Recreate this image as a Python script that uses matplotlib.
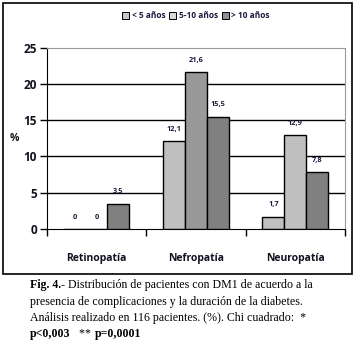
import matplotlib
matplotlib.use("Agg")
import matplotlib.pyplot as plt
from matplotlib.patches import Rectangle
import numpy as np

categories = ["Retinopatía", "Nefropatía", "Neuropatía"]
series_names = ["< 5 años", "5-10 años", "> 10 años"]
menos5 = [0, 12.1, 1.7]
de5a10 = [0, 21.6, 12.9]
mas10 = [3.5, 15.5, 7.8]
value_labels = [["0", "12,1", "1,7"], ["0", "21,6", "12,9"], ["3,5", "15,5", "7,8"]]
yticks = [0, 5, 10, 15, 20, 25]

W, H = 354, 357
fig = plt.figure(figsize=(W / 100, H / 100), dpi=100)
fam = ["Open Sans", "DejaVu Sans"]
navy = "#1a1a40"

ax = fig.add_axes([46.7 / W, 1 - 229 / H, (345 - 46.7) / W, (229 - 47.7) / H])

x = np.arange(len(categories))
bw = 0.22
series = [menos5, de5a10, mas10]
colors = [["#c0c0c0", "#c0c0c0", "#c0c0c0"],
          ["#c0c0c0", "#999999", "#c0c0c0"],
          ["#808080", "#808080", "#808080"]]
for i, vals in enumerate(series):
    offs = (i - 1) * bw
    ax.bar(x + offs, vals, bw, color=colors[i], edgecolor="black", linewidth=1.0, zorder=3)
    for j, v in enumerate(vals):
        ax.annotate(value_labels[i][j], (x[j] + offs, v), xytext=(0, 6), textcoords="offset points",
                    ha="center", va="bottom", fontsize=5.3, fontweight="bold", color=navy, family=fam)

ax.set_xlim(-0.5, 2.5)
ax.set_ylim(0, 25)
ax.set_yticks(yticks)
ax.set_yticklabels([str(t) for t in yticks], fontsize=8.5, fontweight="bold", family=fam, color="#111122")
for t in [5, 10, 15, 20]:
    ax.axhline(t, color="black", linewidth=1.0, zorder=1)
ax.set_xticks([-0.5, 0.5, 1.5, 2.5])
ax.set_xticklabels([])
ax.tick_params(axis="x", length=5, width=1, direction="out")
ax.tick_params(axis="y", length=5, width=1, direction="out", pad=2)
for j, c in enumerate(categories):
    ax.text(x[j], -0.16, c, transform=ax.get_xaxis_transform(), ha="center", va="center",
            fontsize=7.5, fontweight="bold", family=fam, color="#111122")
ax.spines["left"].set_color("black")
ax.spines["bottom"].set_color("black")
ax.spines["top"].set_color("#999999")
ax.spines["right"].set_color("#999999")
ax.text(-0.11, 0.5, "%", transform=ax.transAxes, ha="center", va="center",
        fontsize=7.5, fontweight="bold", family=fam, color="#111122")

# legend
handles = [Rectangle((0, 0), 1, 1, facecolor="#c8c8c8", edgecolor="black", linewidth=0.7),
           Rectangle((0, 0), 1, 1, facecolor="#d8d8d8", edgecolor="black", linewidth=0.7),
           Rectangle((0, 0), 1, 1, facecolor="#909090", edgecolor="black", linewidth=0.7)]
fig.legend(handles, series_names, loc="center", bbox_to_anchor=(196 / W, 1 - 16 / H), ncol=3,
           frameon=False, prop={"family": fam, "size": 6, "weight": "bold"},
           handlelength=0.8, handleheight=0.8, handletextpad=0.3, columnspacing=0.5,
           borderpad=0, labelcolor=navy)

# outer box
fig.patches.append(Rectangle((3 / W, 1 - 274 / H), 349 / W, 271 / H, transform=fig.transFigure,
                             fill=False, edgecolor="black", linewidth=1.2))

# caption
serif = ["Liberation Serif", "DejaVu Serif"]
cap_lines = [
    [("Fig. 4.-", "bold"), (" Distribución de pacientes con DM1 de acuerdo a la", "normal")],
    [("presencia de complicaciones y la duración de la diabetes.", "normal")],
    [("Análisis realizado en 116 pacientes. (%). Chi cuadrado:  *", "normal")],
    [("p<0,003", "bold"), ("   ** ", "normal"), ("p=0,0001", "bold")],
]
ys = [285, 302, 318, 334]
renderer = fig.canvas.get_renderer()
for line, yy in zip(cap_lines, ys):
    xx = 30 / W
    for txt, wt in line:
        t = fig.text(xx, 1 - yy / H, txt, ha="left", va="center", fontsize=8.6,
                     family=serif, fontweight=wt, color="black")
        bb = t.get_window_extent(renderer=renderer)
        xx += bb.width / W

fig.savefig("out.png", dpi=100)
